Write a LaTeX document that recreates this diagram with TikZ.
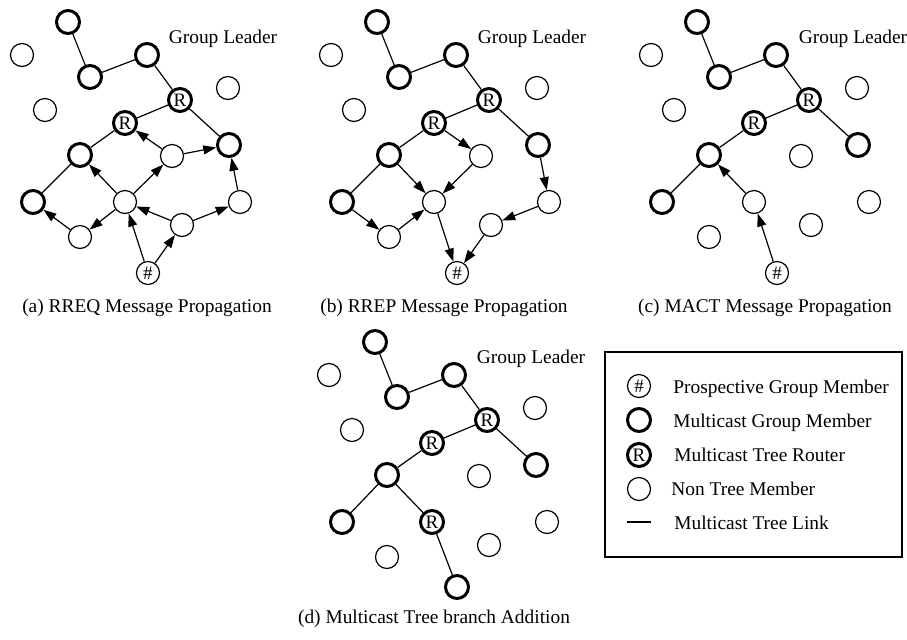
\documentclass[tikz,border=0pt]{standalone}
\usepackage{fontspec}
\setmainfont{Liberation Serif}
\usetikzlibrary{arrows.meta}

\tikzset{
  base/.style={circle, draw, inner sep=0pt, minimum size=11.5pt, font=\fontsize{9.5}{9.5}\selectfont},
  plain/.style={base, line width=0.6pt},
  member/.style={base, line width=1.5pt},
  router/.style={member},
  prospective/.style={plain},
  link/.style={line width=0.6pt},
  msg/.style={link, -{Triangle[length=6.5pt,width=4.5pt]}},
  label/.style={inner sep=0pt, font=\fontsize{9.7}{11.6}\selectfont},
}

\begin{document}
\begin{tikzpicture}[x=0.5pt, y=-0.5pt]
\useasboundingbox (0,0) rectangle (907,639);

% ---------- (a) RREQ propagation ----------
\begin{scope}
  \node[member] (a1) at (68,22) {};
  \node[plain]  (a2) at (22,55) {};
  \node[member] (a3) at (90,77) {};
  \node[member] (a4) at (147,55) {};
  \node[plain]  (a5) at (228,88) {};
  \node[router] (a6) at (180,100) {R};
  \node[plain]  (a7) at (45,110) {};
  \node[router] (a8) at (125,123) {R};
  \node[member] (a9) at (80,155) {};
  \node[plain]  (a10) at (172,156) {};
  \node[member] (a11) at (229,145) {};
  \node[member] (a12) at (33,202) {};
  \node[plain]  (a13) at (125,202) {};
  \node[plain]  (a14) at (240,202) {};
  \node[plain]  (a15) at (80,237) {};
  \node[plain]  (a16) at (182,225) {};
  \node[prospective] (a17) at (148,273) {\#};
  \node[label, anchor=base] (aGL) at (223,43) {Group Leader};
  \draw[link] (a1) -- (a3) (a3) -- (a4) (a4) -- (a6) (a6) -- (a8)
              (a8) -- (a9) (a9) -- (a12) (a6) -- (a11);
  \draw[msg] (a15) -- (a12);
  \draw[msg] (a13) -- (a15);
  \draw[msg] (a13) -- (a9);
  \draw[msg] (a13) -- (a10);
  \draw[msg] (a10) -- (a8);
  \draw[msg] (a10) -- (a11);
  \draw[msg] (a17) -- (a13);
  \draw[msg] (a17) -- (a16);
  \draw[msg] (a16) -- (a13);
  \draw[msg] (a16) -- (a14);
  \draw[msg] (a14) -- (a11);
\end{scope}
\node[label, anchor=base] (capA) at (147,312) {(a) RREQ Message Propagation};

% ---------- (b) RREP propagation ----------
\begin{scope}[shift={(309,0)}]
  \node[member] (b1) at (68,22) {};
  \node[plain]  (b2) at (22,55) {};
  \node[member] (b3) at (90,77) {};
  \node[member] (b4) at (147,55) {};
  \node[plain]  (b5) at (228,88) {};
  \node[router] (b6) at (180,100) {R};
  \node[plain]  (b7) at (45,110) {};
  \node[router] (b8) at (125,123) {R};
  \node[member] (b9) at (80,155) {};
  \node[plain]  (b10) at (172,156) {};
  \node[member] (b11) at (229,145) {};
  \node[member] (b12) at (33,202) {};
  \node[plain]  (b13) at (125,202) {};
  \node[plain]  (b14) at (240,202) {};
  \node[plain]  (b15) at (80,237) {};
  \node[plain]  (b16) at (182,225) {};
  \node[prospective] (b17) at (148,273) {\#};
  \node[label, anchor=base] (bGL) at (223,43) {Group Leader};
  \draw[link] (b1) -- (b3) (b3) -- (b4) (b4) -- (b6) (b6) -- (b8)
              (b8) -- (b9) (b9) -- (b12) (b6) -- (b11);
  \draw[msg] (b8) -- (b10);
  \draw[msg] (b9) -- (b13);
  \draw[msg] (b10) -- (b13);
  \draw[msg] (b12) -- (b15);
  \draw[msg] (b15) -- (b13);
  \draw[msg] (b13) -- (b17);
  \draw[msg] (b11) -- (b14);
  \draw[msg] (b14) -- (b16);
  \draw[msg] (b16) -- (b17);
\end{scope}
\node[label, anchor=base] (capB) at (444,312) {(b) RREP Message Propagation};

% ---------- (c) MACT propagation ----------
\begin{scope}[shift={(629,0)}]
  \node[member] (c1) at (68,22) {};
  \node[plain]  (c2) at (22,55) {};
  \node[member] (c3) at (90,77) {};
  \node[member] (c4) at (147,55) {};
  \node[plain]  (c5) at (228,88) {};
  \node[router] (c6) at (180,100) {R};
  \node[plain]  (c7) at (45,110) {};
  \node[router] (c8) at (125,123) {R};
  \node[member] (c9) at (80,155) {};
  \node[plain]  (c10) at (172,156) {};
  \node[member] (c11) at (229,145) {};
  \node[member] (c12) at (33,202) {};
  \node[plain]  (c13) at (125,202) {};
  \node[plain]  (c14) at (240,202) {};
  \node[plain]  (c15) at (80,237) {};
  \node[plain]  (c16) at (182,225) {};
  \node[prospective] (c17) at (148,273) {\#};
  \node[label, anchor=base] (cGL) at (224,43) {Group Leader};
  \draw[link] (c1) -- (c3) (c3) -- (c4) (c4) -- (c6) (c6) -- (c8)
              (c8) -- (c9) (c9) -- (c12) (c6) -- (c11);
  \draw[msg] (c17) -- (c13);
  \draw[msg] (c13) -- (c9);
\end{scope}
\node[label, anchor=base] (capC) at (765,312) {(c) MACT Message Propagation};

% ---------- (d) tree after branch addition ----------
\begin{scope}[shift={(307,320)}]
  \node[member] (d1) at (68,22) {};
  \node[plain]  (d2) at (22,55) {};
  \node[member] (d3) at (90,77) {};
  \node[member] (d4) at (147,55) {};
  \node[plain]  (d5) at (228,88) {};
  \node[router] (d6) at (180,100) {R};
  \node[plain]  (d7) at (45,110) {};
  \node[router] (d8) at (125,123) {R};
  \node[member] (d9) at (80,155) {};
  \node[plain]  (d10) at (172,156) {};
  \node[member] (d11) at (229,145) {};
  \node[member] (d12) at (35,202) {};
  \node[router] (d13) at (125,202) {R};
  \node[plain]  (d14) at (240,202) {};
  \node[plain]  (d15) at (80,237) {};
  \node[plain]  (d16) at (182,225) {};
  \node[member] (d17) at (150,267) {};
  \node[label, anchor=base] (dGL) at (224,43) {Group Leader};
  \draw[link] (d1) -- (d3) (d3) -- (d4) (d4) -- (d6) (d6) -- (d8)
              (d8) -- (d9) (d9) -- (d12) (d6) -- (d11)
              (d9) -- (d13) (d13) -- (d17);
\end{scope}
\node[label, anchor=base] (capD) at (434,623) {(d) Multicast Tree branch Addition};

% ---------- legend ----------
\draw[line width=0.6pt] (605,352) rectangle (902,557);
\node[prospective] (l1) at (639,386) {\#};
\node[member]      (l2) at (639,420) {};
\node[router]      (l3) at (639,455) {R};
\node[plain]       (l4) at (639,489) {};
\coordinate (l5a) at (627,522);
\coordinate (l5b) at (651,522);
\draw[link] (l5a) -- (l5b);
\node[label, anchor=base west] (t1) at (673,393) {Prospective Group Member};
\node[label, anchor=base west] (t2) at (673,427) {Multicast Group Member};
\node[label, anchor=base west] (t3) at (674,461) {Multicast Tree Router};
\node[label, anchor=base west] (t4) at (671,495) {Non Tree Member};
\node[label, anchor=base west] (t5) at (674,529) {Multicast Tree Link};
\end{tikzpicture}
\end{document}
